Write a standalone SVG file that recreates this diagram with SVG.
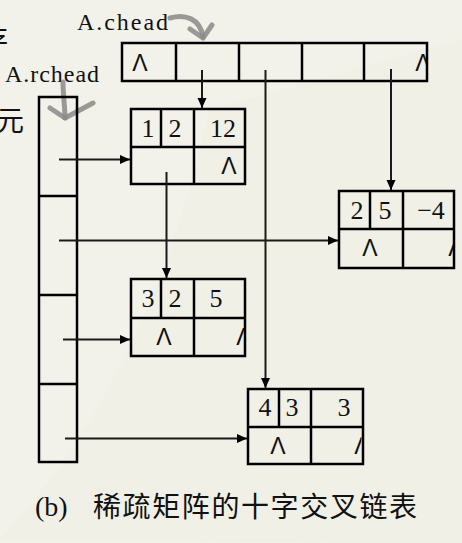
<svg xmlns="http://www.w3.org/2000/svg" width="462" height="543" viewBox="0 0 462 543">
<style>
.box{fill:none;stroke:#000;stroke-width:2.5}
.ln{stroke:#000;stroke-width:2.5}
.arr{stroke:#1a1a1a;stroke-width:2;fill:none}
.num{font-family:"Liberation Serif",serif;font-size:26px;fill:#111;text-anchor:middle}
.lam{font-family:"Liberation Sans",sans-serif;font-size:23px;fill:#111;text-anchor:middle}
.lbl{font-family:"Liberation Serif",serif;font-size:24px;fill:#111}
.cap{font-family:"Liberation Serif","Noto Sans CJK SC",serif;font-size:28px;fill:#111}
.hand{stroke:#8a8a88;stroke-width:5;fill:none;stroke-linecap:round;stroke-linejoin:round;opacity:0.85}
</style>
<defs>
<marker id="ah" markerUnits="userSpaceOnUse" markerWidth="10" markerHeight="10" refX="10" refY="4.5" orient="auto">
<path d="M0,0 L10,4.5 L0,9 z" fill="#000"/>
</marker>
<clipPath id="c2"><rect x="0" y="0" width="453" height="543"/></clipPath>
<clipPath id="c3"><rect x="0" y="0" width="244" height="543"/></clipPath>
<clipPath id="c4"><rect x="0" y="0" width="361.5" height="543"/></clipPath>
<clipPath id="ch"><rect x="0" y="0" width="426" height="543"/></clipPath>
</defs>
<rect x="0" y="0" width="462" height="543" fill="#f3f2ea"/>
<path d="M0,540 Q150,380 210,110 L462,40 L462,543 Z" fill="#eeede4" opacity="0.5"/>

<g id="edge-labels">
<text x="-20" y="50" class="cap" font-size="30">存</text>
<text x="-4" y="131" class="cap" font-size="30">元</text>
</g>

<g id="chead-label">
<text x="77" y="30" class="lbl" textLength="91" lengthAdjust="spacing">A.chead</text>
<path class="hand" d="M170,18 C185,14 200,18 203,37"/>
<path class="hand" d="M190,29 L203,38 L212,25"/>
</g>
<g id="rchead-label">
<text x="5" y="82" class="lbl" textLength="94" lengthAdjust="spacing">A.rchead</text>
<path class="hand" d="M63,82 C63,95 65,108 65,118"/>
<path class="hand" d="M50,108 L65,118 L93,103"/>
</g>

<g id="chead">
<rect class="box" x="122" y="43" width="305" height="38"/>
<line class="ln" x1="176" y1="43" x2="176" y2="81"/>
<line class="ln" x1="239" y1="43" x2="239" y2="81"/>
<line class="ln" x1="302" y1="43" x2="302" y2="81"/>
<line class="ln" x1="364" y1="43" x2="364" y2="81"/>
<text class="lam" x="140" y="71">Λ</text>
<text class="lam" x="423" y="71" clip-path="url(#ch)">Λ</text>
</g>

<g id="rhead">
<rect class="box" x="39" y="97" width="38" height="365"/>
<line class="ln" x1="39" y1="196" x2="77" y2="196"/>
<line class="ln" x1="39" y1="295" x2="77" y2="295"/>
<line class="ln" x1="39" y1="384" x2="77" y2="384"/>
</g>

<g id="node-1-2-12">
<rect class="box" x="131" y="109" width="114" height="75"/>
<line class="ln" x1="131" y1="147" x2="245" y2="147"/>
<line class="ln" x1="161" y1="109" x2="161" y2="147"/>
<line class="ln" x1="194" y1="109" x2="194" y2="184"/>
<text class="num" x="148" y="137">1</text>
<text class="num" x="175" y="137">2</text>
<text class="num" x="223" y="137">12</text>
<text class="lam" x="229" y="174">Λ</text>
</g>

<g id="node-2-5-m4">
<rect class="box" x="339" y="191" width="115" height="77"/>
<line class="ln" x1="339" y1="229" x2="454" y2="229"/>
<line class="ln" x1="370" y1="191" x2="370" y2="229"/>
<line class="ln" x1="403" y1="191" x2="403" y2="268"/>
<text class="num" x="357" y="219">2</text>
<text class="num" x="385" y="219">5</text>
<text class="num" x="431" y="219">−4</text>
<text class="lam" x="370" y="256">Λ</text>
<text class="lam" x="456" y="256" clip-path="url(#c2)">Λ</text>
</g>

<g id="node-3-2-5">
<rect class="box" x="131" y="279" width="114" height="77"/>
<line class="ln" x1="131" y1="318" x2="245" y2="318"/>
<line class="ln" x1="161" y1="279" x2="161" y2="318"/>
<line class="ln" x1="194" y1="279" x2="194" y2="356"/>
<text class="num" x="148" y="307">3</text>
<text class="num" x="175" y="307">2</text>
<text class="num" x="216" y="307">5</text>
<text class="lam" x="164" y="345">Λ</text>
<text class="lam" x="244" y="345" clip-path="url(#c3)">Λ</text>
</g>

<g id="node-4-3-3">
<rect class="box" x="248" y="389" width="115" height="75"/>
<line class="ln" x1="248" y1="427" x2="363" y2="427"/>
<line class="ln" x1="279" y1="389" x2="279" y2="427"/>
<line class="ln" x1="311" y1="389" x2="311" y2="464"/>
<text class="num" x="265" y="416">4</text>
<text class="num" x="292" y="416">3</text>
<text class="num" x="344" y="416">3</text>
<text class="lam" x="278" y="454">Λ</text>
<text class="lam" x="362" y="454" clip-path="url(#c4)">Λ</text>
</g>

<g id="connectors">
<line class="arr" x1="202" y1="70" x2="202" y2="108" marker-end="url(#ah)"/>
<line class="arr" x1="265.5" y1="70" x2="265.5" y2="388" marker-end="url(#ah)"/>
<line class="arr" x1="391" y1="69" x2="391" y2="190" marker-end="url(#ah)"/>
<line class="arr" x1="166.5" y1="172" x2="166.5" y2="278" marker-end="url(#ah)"/>
<line class="arr" x1="59" y1="159.5" x2="130" y2="159.5" marker-end="url(#ah)"/>
<line class="arr" x1="59" y1="240.5" x2="338" y2="240.5" marker-end="url(#ah)"/>
<line class="arr" x1="63" y1="339.5" x2="130" y2="339.5" marker-end="url(#ah)"/>
<line class="arr" x1="65" y1="438.5" x2="247" y2="438.5" marker-end="url(#ah)"/>
</g>

<g id="caption">
<text class="cap" x="35" y="516">(b)</text>
<text class="cap" x="93" y="517" textLength="324" lengthAdjust="spacing">稀疏矩阵的十字交叉链表</text>
</g>
</svg>
